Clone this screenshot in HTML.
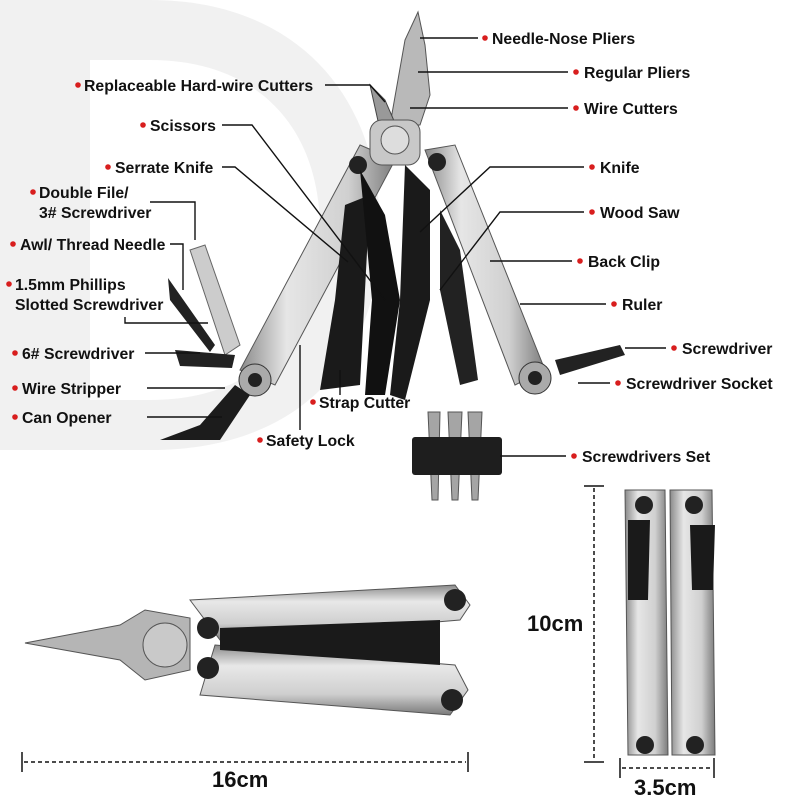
<!DOCTYPE html>
<html><head><meta charset="utf-8"><style>
html,body{margin:0;padding:0;background:#fff;}
svg{display:block;}
text{font-family:"Liberation Sans",sans-serif;font-weight:bold;font-size:15.8px;fill:#111;}
.big{font-size:22px;}
</style></head><body>
<svg width="800" height="800" viewBox="0 0 800 800" xmlns="http://www.w3.org/2000/svg">
<defs>
<linearGradient id="sv" x1="0" x2="1" y1="0" y2="0"><stop offset="0" stop-color="#8a8a8a"/><stop offset="0.3" stop-color="#e6e6e6"/><stop offset="0.7" stop-color="#d0d0d0"/><stop offset="1" stop-color="#7c7c7c"/></linearGradient>
<linearGradient id="sh" x1="0" x2="0" y1="0" y2="1"><stop offset="0" stop-color="#8a8a8a"/><stop offset="0.3" stop-color="#e8e8e8"/><stop offset="0.7" stop-color="#cfcfcf"/><stop offset="1" stop-color="#7a7a7a"/></linearGradient>
</defs>
<path d="M0,0 L150,0 C300,0 380,100 380,230 C380,360 300,450 150,450 L0,450 Z M90,60 L90,400 L150,400 C260,400 320,330 320,230 C320,130 260,60 150,60 Z" fill="#f1f1f1" fill-rule="evenodd"/>
<path d="M390,125 L405,40 L418,12 L425,45 L430,95 L420,125 Z" fill="#b9b9b9" stroke="#555" stroke-width="1"/>
<path d="M380,130 L370,85 L385,100 L398,130 Z" fill="#999" stroke="#444"/>
<path d="M360,145 L395,160 L275,385 L240,370 Z" fill="url(#sv)" stroke="#555"/>
<path d="M425,150 L455,145 L545,370 L515,385 Z" fill="url(#sv)" stroke="#555"/>
<rect x="370" y="120" width="50" height="45" rx="12" fill="#c8c8c8" stroke="#555"/>
<circle cx="395" cy="140" r="14" fill="#ddd" stroke="#555"/>
<circle cx="358" cy="165" r="9" fill="#222"/><circle cx="437" cy="162" r="9" fill="#222"/>
<path d="M345,205 L370,195 L360,385 L320,390 L335,300 Z" fill="#1a1a1a"/>
<path d="M360,170 L385,215 L400,300 L385,395 L365,395 L372,300 Z" fill="#111"/>
<path d="M405,165 L430,190 L430,300 L405,400 L390,395 L400,300 Z" fill="#1a1a1a"/>
<path d="M440,210 L460,250 L478,380 L460,385 L440,290 Z" fill="#222"/>
<path d="M555,360 L620,345 L625,355 L560,375 Z" fill="#222"/>
<circle cx="255" cy="380" r="16" fill="#aaa" stroke="#333"/><circle cx="255" cy="380" r="7" fill="#222"/>
<circle cx="535" cy="378" r="16" fill="#aaa" stroke="#333"/><circle cx="535" cy="378" r="7" fill="#222"/>
<path d="M190,250 L205,245 L240,345 L225,355 Z" fill="#ccc" stroke="#666"/>
<path d="M168,278 L215,345 L210,352 L170,300 Z" fill="#222"/>
<path d="M175,350 L235,355 L232,368 L180,366 Z" fill="#222"/>
<path d="M250,395 L220,440 L160,440 L200,425 L235,385 Z" fill="#1c1c1c"/>
<path d="M428,412 L440,412 L438,500 L432,500 Z M448,412 L462,412 L458,500 L452,500 Z M468,412 L482,412 L478,500 L472,500 Z" fill="#a5a5a5" stroke="#555"/>
<rect x="412" y="437" width="90" height="38" rx="3" fill="#1e1e1e"/>
<path d="M25,643 L120,625 L145,610 L190,618 L190,670 L145,680 L120,660 Z" fill="#b5b5b5" stroke="#555"/>
<path d="M190,600 L455,585 L470,605 L460,620 L220,640 Z" fill="url(#sh)" stroke="#555"/>
<path d="M215,645 L455,665 L468,690 L450,715 L200,695 Z" fill="url(#sh)" stroke="#555"/>
<path d="M220,628 L440,620 L440,665 L220,650 Z" fill="#1a1a1a"/>
<circle cx="165" cy="645" r="22" fill="#c9c9c9" stroke="#555"/>
<circle cx="208" cy="628" r="11" fill="#222"/><circle cx="208" cy="668" r="11" fill="#222"/>
<circle cx="455" cy="600" r="11" fill="#222"/><circle cx="452" cy="700" r="11" fill="#222"/>
<path d="M625,490 L665,490 L668,755 L628,755 Z" fill="url(#sv)" stroke="#555"/>
<path d="M670,490 L712,490 L715,755 L672,755 Z" fill="url(#sv)" stroke="#555"/>
<path d="M628,520 L650,520 L648,600 L628,600 Z M690,525 L715,525 L713,590 L692,590 Z" fill="#1a1a1a"/>
<circle cx="644" cy="505" r="9" fill="#222"/><circle cx="694" cy="505" r="9" fill="#222"/>
<circle cx="645" cy="745" r="9" fill="#222"/><circle cx="695" cy="745" r="9" fill="#222"/>
<g stroke="#111" stroke-width="1.4" fill="none">
<path d="M420,38 H478"/><path d="M418,72 H568"/><path d="M410,108 H568"/>
<path d="M420,232 L490,167 H584"/><path d="M440,290 L500,212 H584"/>
<path d="M490,261 H572"/><path d="M520,304 H606"/><path d="M625,348 H666"/><path d="M578,383 H610"/><path d="M500,456 H566"/>
<path d="M385,102 L370,85 H325"/><path d="M385,300 L252,125 H222"/><path d="M348,262 L235,167 H222"/>
<path d="M150,202 H195 V240"/><path d="M170,244 H183 V290"/><path d="M125,317 V323 H208"/>
<path d="M145,353 H200"/><path d="M147,388 H225"/><path d="M147,417 H222"/>
<path d="M300,430 V345"/><path d="M340,395 V370"/>
</g>
<g fill="#d81e1e">
<circle cx="485" cy="38" r="2.8"/><circle cx="576" cy="72" r="2.8"/><circle cx="576" cy="108" r="2.8"/>
<circle cx="592" cy="167" r="2.8"/><circle cx="592" cy="212" r="2.8"/><circle cx="580" cy="261" r="2.8"/>
<circle cx="614" cy="304" r="2.8"/><circle cx="674" cy="348" r="2.8"/><circle cx="618" cy="383" r="2.8"/>
<circle cx="574" cy="456" r="2.8"/><circle cx="78" cy="85" r="2.8"/><circle cx="143" cy="125" r="2.8"/>
<circle cx="108" cy="167" r="2.8"/><circle cx="33" cy="192" r="2.8"/><circle cx="13" cy="244" r="2.8"/>
<circle cx="9" cy="284" r="2.8"/><circle cx="15" cy="353" r="2.8"/><circle cx="15" cy="388" r="2.8"/>
<circle cx="15" cy="417" r="2.8"/><circle cx="260" cy="440" r="2.8"/><circle cx="313" cy="402" r="2.8"/>
</g>
<text x="492" y="44">Needle-Nose Pliers</text>
<text x="584" y="78">Regular Pliers</text>
<text x="584" y="114">Wire Cutters</text>
<text x="600" y="173">Knife</text>
<text x="600" y="218">Wood Saw</text>
<text x="588" y="267">Back Clip</text>
<text x="622" y="310">Ruler</text>
<text x="682" y="354">Screwdriver</text>
<text x="626" y="389">Screwdriver Socket</text>
<text x="582" y="462">Screwdrivers Set</text>
<text x="84" y="91">Replaceable Hard-wire Cutters</text>
<text x="150" y="131">Scissors</text>
<text x="115" y="173">Serrate Knife</text>
<text x="39" y="198">Double File/</text>
<text x="39" y="218">3# Screwdriver</text>
<text x="20" y="250">Awl/ Thread Needle</text>
<text x="15" y="290">1.5mm Phillips</text>
<text x="15" y="310">Slotted Screwdriver</text>
<text x="22" y="359">6# Screwdriver</text>
<text x="22" y="394">Wire Stripper</text>
<text x="22" y="423">Can Opener</text>
<text x="266" y="446">Safety Lock</text>
<text x="319" y="408">Strap Cutter</text>
<g stroke="#111" stroke-width="1.5" stroke-dasharray="4,3" fill="none">
<path d="M24,762 H466"/><path d="M594,488 V760"/><path d="M622,768 H712"/>
</g>
<g stroke="#111" stroke-width="1.5"><path d="M22,752 V772 M468,752 V772 M584,486 H604 M584,762 H604 M620,758 V778 M714,758 V778"/></g>
<text class="big" x="212" y="787">16cm</text>
<text class="big" x="527" y="631">10cm</text>
<text class="big" x="634" y="795">3.5cm</text>
</svg>
</body></html>
